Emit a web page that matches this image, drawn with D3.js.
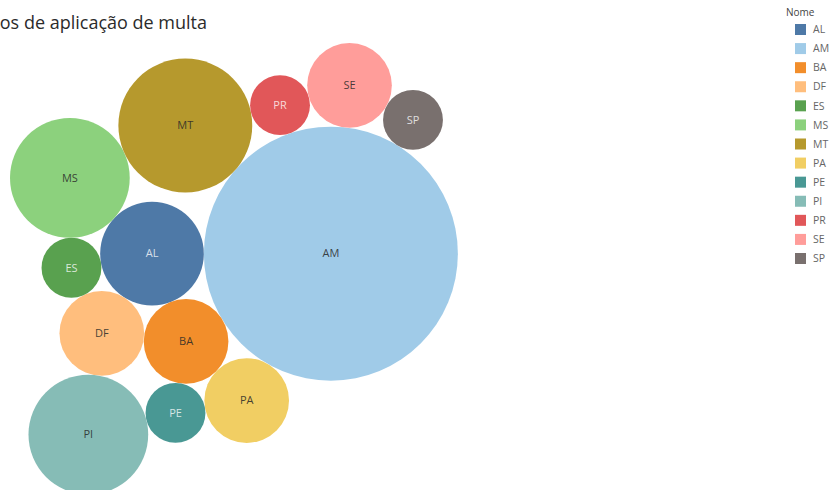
<!DOCTYPE html>
<html>
<head>
<meta charset="utf-8">
<script src="https://cdn.jsdelivr.net/npm/d3@7"></script>
<style>
  html, body { margin: 0; padding: 0; background: #fff; }
  svg { display: block; }
</style>
</head>
<body>
<svg id="chart" width="829" height="490"></svg>
<script>
// ---- data ----
const titleText = "Casos de aplicação de multa";
const legendTitle = "Nome";
const names  = ["AL", "AM", "BA", "DF", "ES", "MS", "MT", "PA", "PE", "PI", "PR", "SE", "SP"];
const values = [3, 18, 2, 2, 1, 4, 5, 2, 1, 4, 1, 2, 1];
const colors = ["#4E79A7", "#A0CBE8", "#F28E2B", "#FFBE7D", "#59A14F", "#8CD17D", "#B6992D",
                "#F1CE63", "#499894", "#86BCB6", "#E15759", "#FF9D9A", "#79706E"];
const lightLabels = ["AL", "ES", "PE", "PR", "SP"];
// packing order and the already-placed bubbles each new bubble is tangent to (topology only)
const packOrder   = ["AM", "AL", "BA", "PA", "PE", "DF", "ES", "MS", "MT", "PR", "SE", "SP", "PI"];
const packAnchors = [[], ["AM"], ["AM", "AL"], ["AM", "BA"], ["BA", "PA"], ["AL", "BA"], ["AL", "DF"],
                     ["AL", "ES"], ["AM", "MS"], ["AM", "MT"], ["AM", "PR"], ["AM", "SE"], ["DF", "PE"]];

(function () {
// ---- scales ----
const rScale = d3.scaleSqrt().domain([0, d3.max(values)]).range([0, 127]);
const color = d3.scaleOrdinal().domain(names).range(colors);

// ---- tangent packing layout ----
const nodes = names.map((n, i) => ({ name: n, value: values[i], r: rScale(values[i]) }));
const byName = new Map(nodes.map(d => [d.name, d]));

function candidates(a, b, r) {
  const dx = b.x - a.x, dy = b.y - a.y, d = Math.hypot(dx, dy);
  const ra = a.r + r, rb = b.r + r;
  const t = (d * d + ra * ra - rb * rb) / (2 * d);
  const h = Math.sqrt(Math.max(0, ra * ra - t * t));
  const ux = dx / d, uy = dy / d;
  return [
    { x: a.x + t * ux - h * uy, y: a.y + t * uy + h * ux },
    { x: a.x + t * ux + h * uy, y: a.y + t * uy - h * ux }
  ];
}

const placed = [];
packOrder.forEach((name, i) => {
  const c = byName.get(name);
  const anc = packAnchors[i].map(n => byName.get(n));
  if (anc.length === 0) { c.x = 0; c.y = 0; }
  else if (anc.length === 1) { c.x = anc[0].x - anc[0].r - c.r; c.y = anc[0].y; }
  else {
    const [a, b] = anc;
    let cands = candidates(a, b, c.r);
    const ok = cands.filter(p => placed.every(e => Math.hypot(p.x - e.x, p.y - e.y) >= e.r + c.r - 0.5));
    if (ok.length) cands = ok;
    cands.sort((p, q) => {
      const cp = (b.x - a.x) * (p.y - a.y) - (b.y - a.y) * (p.x - a.x);
      const cq = (b.x - a.x) * (q.y - a.y) - (b.y - a.y) * (q.x - a.x);
      return cp - cq;
    });
    c.x = cands[0].x; c.y = cands[0].y;
  }
  placed.push(c);
});

const minX = d3.min(nodes, d => d.x - d.r), maxX = d3.max(nodes, d => d.x + d.r);
const minY = d3.min(nodes, d => d.y - d.r), maxY = d3.max(nodes, d => d.y + d.r);
const plotLeft = 10, plotTop = 43;
const x = d3.scaleLinear().domain([minX, maxX]).range([plotLeft, plotLeft + (maxX - minX)]);
const y = d3.scaleLinear().domain([minY, maxY]).range([plotTop, plotTop + (maxY - minY)]);

// ---- draw ----
const svg = d3.select("#chart");

svg.append("text")
  .attr("x", 207).attr("y", 29)
  .attr("text-anchor", "end")
  .style("font-family", "'Open Sans', sans-serif")
  .style("font-size", "18px")
  .style("fill", "#2b2b2b")
  .text(titleText);

const g = svg.append("g");
const bubble = g.selectAll("g.bubble").data(nodes).join("g")
  .attr("class", "bubble")
  .attr("transform", d => `translate(${x(d.x)},${y(d.y)})`);

bubble.append("circle")
  .attr("r", d => d.r)
  .attr("fill", d => color(d.name));

bubble.append("text")
  .attr("text-anchor", "middle")
  .attr("dy", "0.35em")
  .style("font-family", "'Open Sans', sans-serif")
  .style("font-size", "11px")
  .style("fill", d => lightLabels.includes(d.name) ? "rgba(255,255,255,0.78)" : "rgba(40,40,40,0.85)")
  .text(d => d.name);

// ---- legend ----
const legend = svg.append("g").attr("transform", "translate(786,0)");
legend.append("text")
  .attr("x", 0).attr("y", 16)
  .style("font-family", "'Open Sans', sans-serif")
  .style("font-size", "10px")
  .style("fill", "#444")
  .text(legendTitle);

const ly = d3.scalePoint().domain(names).range([29.5, 258.5]);
const item = legend.selectAll("g.item").data(names).join("g")
  .attr("class", "item")
  .attr("transform", d => `translate(0,${ly(d)})`);
item.append("rect")
  .attr("x", 9).attr("y", -5.5).attr("width", 11).attr("height", 11)
  .attr("fill", d => color(d));
item.append("text")
  .attr("x", 27).attr("dy", "0.35em")
  .style("font-family", "'Open Sans', sans-serif")
  .style("font-size", "10.5px")
  .style("fill", "#666")
  .text(d => d);
})();
</script>
</body>
</html>
